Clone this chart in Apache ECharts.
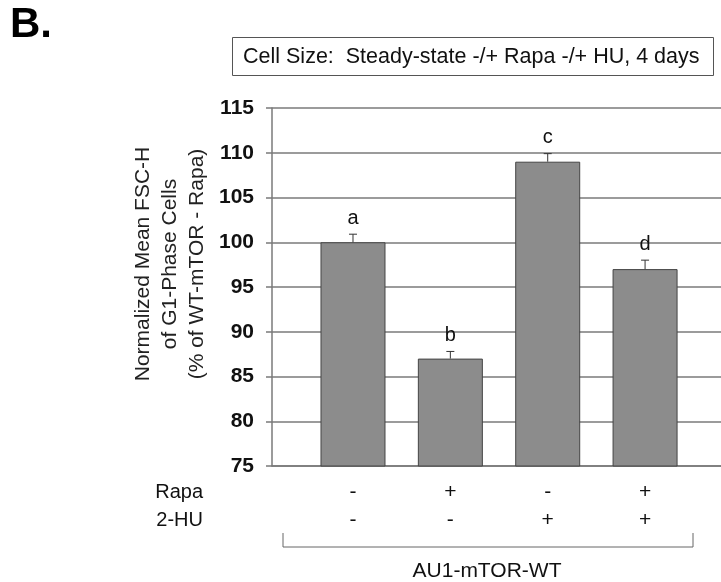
<!DOCTYPE html>
<html>
<head>
<meta charset="utf-8">
<script src="https://cdn.jsdelivr.net/npm/echarts@6/dist/echarts.min.js"></script>
<style>
  html, body { margin: 0; padding: 0; background: #fff; }
  #main { width: 721px; height: 582px; }
</style>
</head>
<body>
<div id="main"></div>
<script>
// data
var groups = [0, 1, 2, 3];
var means = [100, 87, 109, 97];
var errs = [0.9, 0.8, 0.9, 1.0];
var letters = ['a', 'b', 'c', 'd'];
var rapaRow = ['-', '+', '-', '+'];
var huRow = ['-', '-', '+', '+'];
var yTicks = [75, 80, 85, 90, 95, 100, 105, 110, 115];

var FONT = 'Liberation Sans, Arial, sans-serif';
var chart = echarts.init(document.getElementById('main'));

var barData = [], errData = [], signData = [];
for (var i = 0; i < groups.length; i++) {
  barData.push([groups[i], means[i]]);
  errData.push([groups[i], means[i], errs[i]]);
  signData.push([groups[i], yTicks[0]]);
}

var option = {
  backgroundColor: '#ffffff',
  animation: false,
  grid: { left: 272, right: 0, top: 108, bottom: 116 },
  xAxis: {
    type: 'value',
    min: -0.832,
    max: 3.78,
    axisLine: { show: true, onZero: false, lineStyle: { color: '#7a7a7a', width: 1.5 } },
    axisTick: { show: false },
    axisLabel: { show: false },
    splitLine: { show: false }
  },
  yAxis: {
    type: 'value',
    min: yTicks[0],
    max: yTicks[yTicks.length - 1],
    interval: 5,
    axisLine: { show: true, onZero: false, lineStyle: { color: '#7a7a7a', width: 1.5 } },
    axisTick: { show: true, length: 6, lineStyle: { color: '#7a7a7a', width: 1.5 } },
    axisLabel: { margin: 18, fontFamily: FONT, fontSize: 21, fontWeight: 'bold', color: '#111' },
    splitLine: { show: true, lineStyle: { color: '#7a7a7a', width: 1.5 } }
  },
  series: [
    {
      type: 'bar',
      data: barData,
      barWidth: 65,
      itemStyle: { color: '#8c8c8c', borderColor: '#444', borderWidth: 1 }
    },
    {
      type: 'custom',
      data: errData,
      z: 5,
      renderItem: function (params, api) {
        var x = api.value(0), m = api.value(1), e = api.value(2);
        var base = api.coord([x, m]);
        var top = api.coord([x, m + e]);
        return {
          type: 'group',
          children: [
            { type: 'line', shape: { x1: base[0], y1: base[1], x2: top[0], y2: top[1] },
              style: { stroke: '#333', lineWidth: 1 } },
            { type: 'line', shape: { x1: top[0] - 4, y1: top[1], x2: top[0] + 4, y2: top[1] },
              style: { stroke: '#333', lineWidth: 1 } },
            { type: 'text', x: top[0], y: top[1] - 6,
              style: { text: letters[params.dataIndex], fontFamily: FONT, fontSize: 20, fill: '#111',
                       align: 'center', verticalAlign: 'bottom' } }
          ]
        };
      }
    },
    {
      type: 'custom',
      data: signData,
      clip: false,
      renderItem: function (params, api) {
        var p = api.coord([api.value(0), api.value(1)]);
        return {
          type: 'group',
          children: [
            { type: 'text', x: p[0], y: p[1] + 26,
              style: { text: rapaRow[params.dataIndex], fontFamily: FONT, fontSize: 21, fill: '#111',
                       align: 'center', verticalAlign: 'middle' } },
            { type: 'text', x: p[0], y: p[1] + 54,
              style: { text: huRow[params.dataIndex], fontFamily: FONT, fontSize: 21, fill: '#111',
                       align: 'center', verticalAlign: 'middle' } }
          ]
        };
      }
    }
  ],
  graphic: [
    { type: 'text', left: 10, top: 4,
      style: { text: 'B.', fontFamily: FONT, fontSize: 42, fontWeight: 'bold', fill: '#000' } },
    { type: 'rect', shape: { x: 232.5, y: 37.5, width: 481, height: 38 },
      style: { fill: '#fff', stroke: '#555', lineWidth: 1 } },
    { type: 'text', x: 243, y: 57,
      style: { text: 'Cell Size:  Steady-state -/+ Rapa -/+ HU, 4 days', fontFamily: FONT,
               fontSize: 21.5, fill: '#111', verticalAlign: 'middle' } },
    { type: 'text', x: 170, y: 264, rotation: Math.PI / 2,
      style: { text: 'Normalized Mean FSC-H\nof G1-Phase Cells\n(% of WT-mTOR - Rapa)',
               fontFamily: FONT, fontSize: 21, lineHeight: 27, fill: '#222',
               align: 'center', verticalAlign: 'middle' } },
    { type: 'text', x: 203, y: 492,
      style: { text: 'Rapa', fontFamily: FONT, fontSize: 20, fill: '#111', align: 'right', verticalAlign: 'middle' } },
    { type: 'text', x: 203, y: 520,
      style: { text: '2-HU', fontFamily: FONT, fontSize: 20, fill: '#111', align: 'right', verticalAlign: 'middle' } },
    { type: 'polyline', shape: { points: [[283, 533], [283, 547], [693, 547], [693, 533]] },
      style: { stroke: '#666', lineWidth: 1, fill: null } },
    { type: 'text', x: 487, y: 571,
      style: { text: 'AU1-mTOR-WT', fontFamily: FONT, fontSize: 21, fill: '#111', align: 'center', verticalAlign: 'middle' } }
  ]
};

chart.setOption(option);
</script>
</body>
</html>
